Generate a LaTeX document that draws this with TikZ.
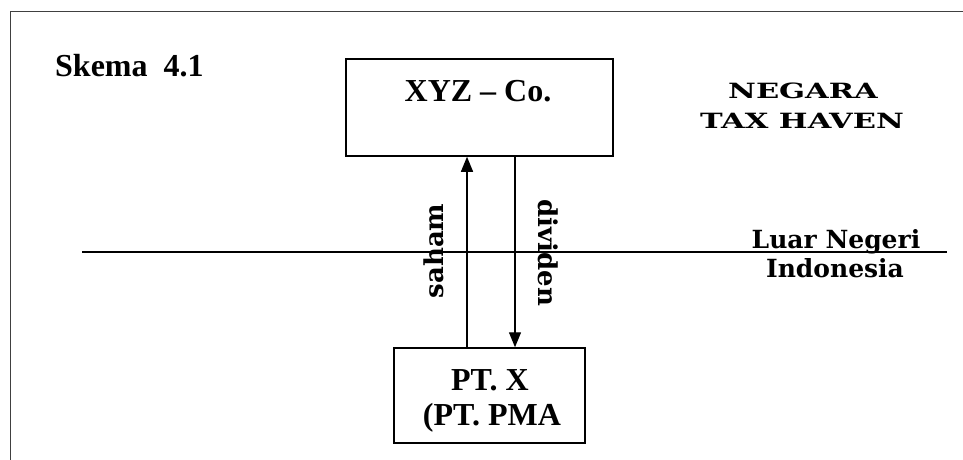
\documentclass[tikz,border=0pt]{standalone}
\usepackage{fontspec}
\setmainfont{Liberation Serif}
\newfontfamily\wideserif{DejaVu Serif}
\usetikzlibrary{arrows.meta}
\newcommand{\wtext}[2]{\scalebox{#1}[1]{#2}}
\begin{document}
\begin{tikzpicture}[x=1pt,y=1pt,
  box/.style={draw, line width=1.5pt, inner sep=0pt, rectangle},
  timestxt/.style={inner sep=0pt, font=\fontsize{32}{36}\selectfont\bfseries},
  widetxt/.style={inner sep=0pt, font=\fontsize{21}{24}\selectfont\wideserif\bfseries},
  sidetxt/.style={inner sep=0pt, font=\fontsize{25}{28}\selectfont\wideserif\bfseries},
  flowtxt/.style={inner sep=0pt, font=\fontsize{26}{28}\selectfont\wideserif\bfseries},
  conn/.style={line width=1.3pt, -{Triangle[width=12pt,length=15pt]}},
  frame/.style={line width=1pt, draw=black!75}]
\useasboundingbox (0,0) rectangle (963,-460);
% frame
\coordinate (ftr) at (963,-12);
\coordinate (ftl) at (10,-12);
\coordinate (fbl) at (10,-460);
\draw[frame] (ftr) -- (ftl) -- (fbl);
% boxes
\node[box, minimum width=267pt, minimum height=97pt] (xyz) at (479.5,-107.5) {};
\node[box, minimum width=191pt, minimum height=95pt] (ptx) at (489.5,-395.5) {};
% box texts
\node[timestxt, anchor=base] (xyzt) at (478,-101) {XYZ -- Co.};
\node[timestxt, anchor=base] (ptxa) at (490,-390) {PT. X};
\node[timestxt, anchor=base] (ptxb) at (492,-425) {(PT. PMA};
\node[timestxt, anchor=base west] (skema) at (55,-77) {Skema\hspace{0.5em}4.1};
% region labels
\node[widetxt, anchor=base] (neg) at (803,-98) {\wtext{1.45}{NEGARA}};
\node[widetxt, anchor=base] (tax) at (802,-128) {\wtext{1.45}{TAX HAVEN}};
\node[sidetxt, anchor=base] (luar) at (836,-248) {Luar Negeri};
\node[sidetxt, anchor=base] (indo) at (835,-277) {Indonesia};
% border line
\coordinate (hl) at (82,-252);
\coordinate (hr) at (947,-252);
\draw[line width=1.3pt] (hl) -- (hr);
% connectors
\coordinate (sx) at (467,0);
\coordinate (dx) at (515,0);
\draw[conn] (ptx.north -| sx) -- (xyz.south -| sx);
\draw[conn] (xyz.south -| dx) -- (ptx.north -| dx);
\node[flowtxt, rotate=90, anchor=base] (saham) at (443,-251) {saham};
\node[flowtxt, rotate=-90, anchor=base] (dividen) at (538,-253) {dividen};
\end{tikzpicture}
\end{document}
